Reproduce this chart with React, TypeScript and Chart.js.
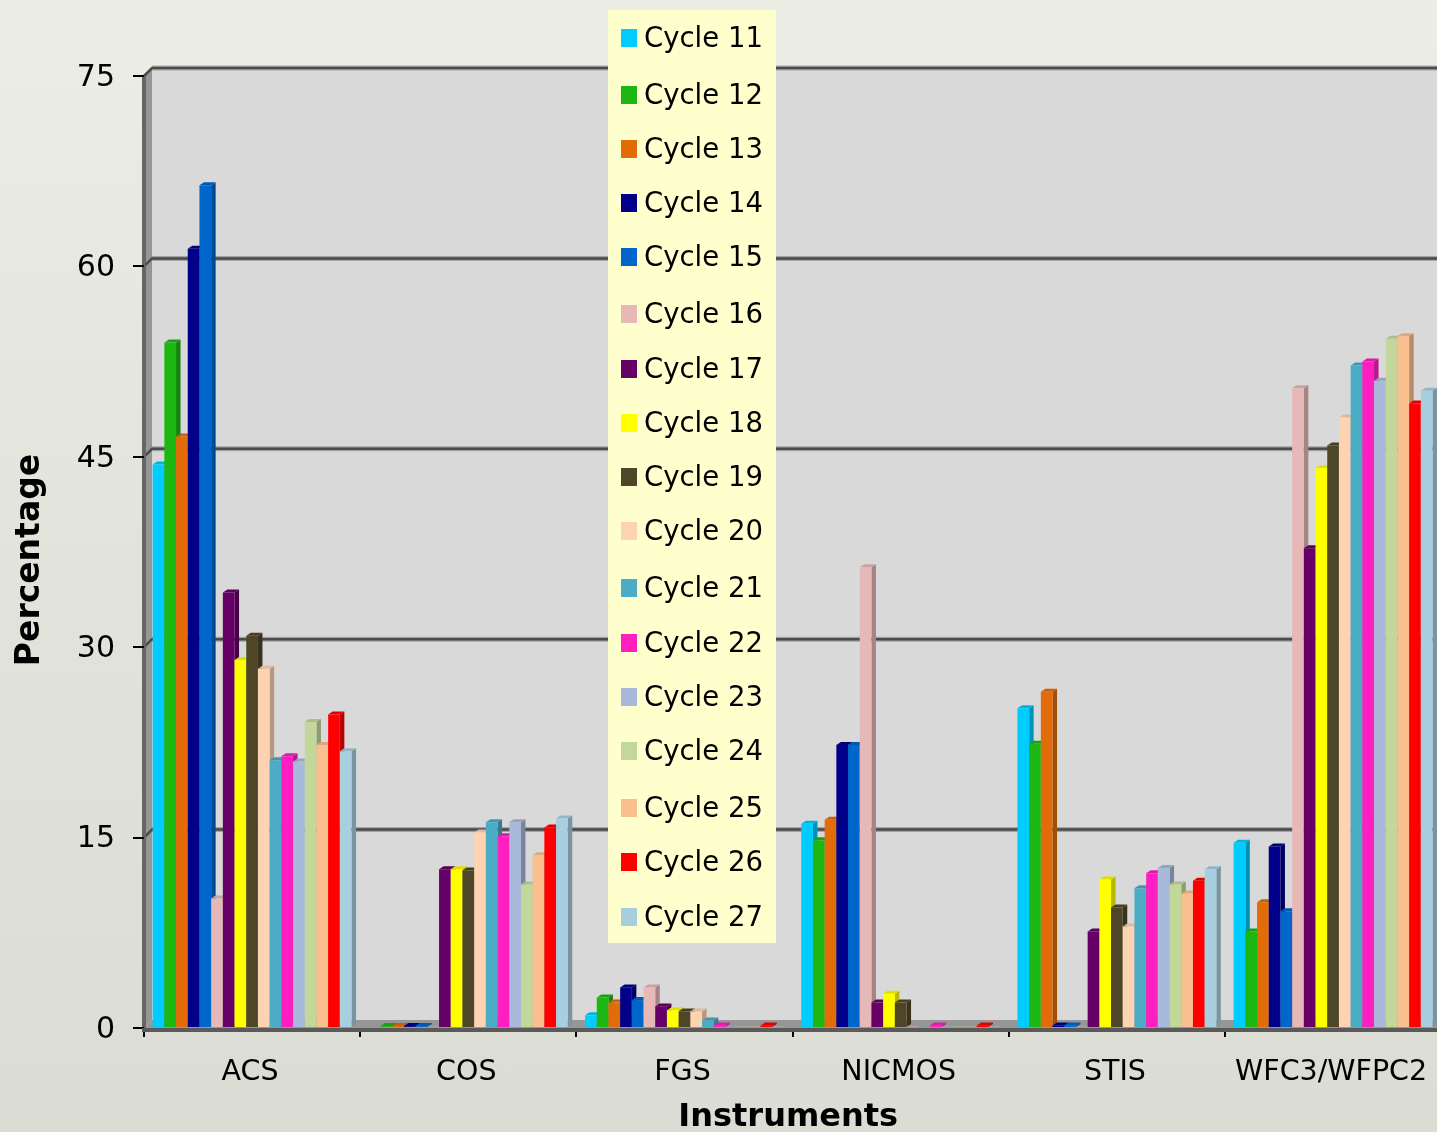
import React, { useEffect, useRef } from "react";
import { Chart, registerables } from "chart.js";

Chart.register(...registerables);

const instruments = ["ACS", "COS", "FGS", "NICMOS", "STIS", "WFC3/WFPC2"];
const yTicks = [0, 15, 30, 45, 60, 75];

const cycle11 = [44.4, 0, 1.0, 16.1, 25.2, 14.6];
const cycle12 = [54.0, 0.15, 2.4, 14.8, 22.4, 7.6];
const cycle13 = [46.6, 0.15, 2.0, 16.4, 26.5, 9.9];
const cycle14 = [61.4, 0.15, 3.2, 22.3, 0.2, 14.3];
const cycle15 = [66.4, 0.15, 2.2, 22.3, 0.2, 9.2];
const cycle16 = [10.2, 0.1, 3.2, 36.3, 0.1, 50.4];
const cycle17 = [34.3, 12.5, 1.7, 2.0, 7.6, 37.8];
const cycle18 = [29.0, 12.5, 1.4, 2.7, 11.7, 44.1];
const cycle19 = [30.9, 12.4, 1.3, 2.0, 9.5, 45.9];
const cycle20 = [28.3, 15.4, 1.3, 0.1, 8.0, 48.1];
const cycle21 = [21.1, 16.2, 0.6, 0.1, 11.0, 52.2];
const cycle22 = [21.4, 15.1, 0.2, 0.2, 12.2, 52.5];
const cycle23 = [21.0, 16.2, 0.1, 0.1, 12.6, 51.0];
const cycle24 = [24.1, 11.3, 0.1, 0.1, 11.3, 54.3];
const cycle25 = [22.3, 13.6, 0.1, 0.1, 10.6, 54.5];
const cycle26 = [24.7, 15.8, 0.2, 0.2, 11.6, 49.2];
const cycle27 = [21.8, 16.5, 0.1, 0.1, 12.5, 50.2];

const seriesNames = ["Cycle 11", "Cycle 12", "Cycle 13", "Cycle 14", "Cycle 15", "Cycle 16", "Cycle 17", "Cycle 18", "Cycle 19", "Cycle 20", "Cycle 21", "Cycle 22", "Cycle 23", "Cycle 24", "Cycle 25", "Cycle 26", "Cycle 27"];
const seriesValues = [cycle11, cycle12, cycle13, cycle14, cycle15, cycle16, cycle17, cycle18, cycle19, cycle20, cycle21, cycle22, cycle23, cycle24, cycle25, cycle26, cycle27];
const seriesColors = ["#00CCFF", "#1DB714", "#E36C0A", "#00008B", "#0066CC", "#E6B8B7", "#660066", "#FFFF00", "#4F4628", "#FDD3B2", "#4BACC6", "#FF1FC0", "#A9B9DA", "#C4D79B", "#FABF8F", "#FF0000", "#A8CFDF"];

const legendRows = [37, 94, 148, 202, 256, 313, 368, 422, 476, 530, 587, 642, 696, 750, 807, 861, 916];

const FONT = '"DejaVu Sans", sans-serif';
const DX = 8;
const DY = 8;

function shade(hex: string, f: number) {
  const n = parseInt(hex.slice(1), 16);
  const c = [(n >> 16) & 255, (n >> 8) & 255, n & 255].map((v) => Math.round(v * f));
  return `rgb(${c[0]},${c[1]},${c[2]})`;
}

function drawBarDepth(ctx: any, meta: any, color: string) {
  ctx.save();
  for (const bar of meta.data) {
    if (bar.base - bar.y < 0.5) continue;
    const half = bar.width / 2;
    const l = bar.x - half;
    const r = bar.x + half;
    const t = bar.y;
    const b = bar.base;
    const sx = 4.5;
    const sy = 3;
    ctx.fillStyle = shade(color, 0.72);
    ctx.beginPath();
    ctx.moveTo(r, t);
    ctx.lineTo(r + sx, t - sy);
    ctx.lineTo(r + sx, b - sy);
    ctx.lineTo(r, b);
    ctx.closePath();
    ctx.fill();
    ctx.fillStyle = shade(color, 0.88);
    ctx.beginPath();
    ctx.moveTo(l, t);
    ctx.lineTo(l + sx, t - sy);
    ctx.lineTo(r + sx, t - sy);
    ctx.lineTo(r, t);
    ctx.closePath();
    ctx.fill();
  }
  ctx.restore();
}

const wallPlugin = {
  id: "wall",
  afterLayout(chart: any) {
    const s = chart.scales.x;
    s.right = s.left + 6 * 216.2;
    s.width = s.right - s.left;
    s.configure();
  },
  beforeDraw(chart: any) {
    const { ctx, chartArea: a, scales } = chart;
    const W = chart.width;
    const y = scales.y;
    const x0 = a.left;
    const y0 = y.getPixelForValue(0);
    const yT = y.getPixelForValue(75);
    ctx.save();
    ctx.fillStyle = "#D9D9D9";
    ctx.fillRect(x0 + DX, yT - DY, W - x0 - DX, y0 - yT);
    ctx.fillStyle = "#969696";
    ctx.beginPath();
    ctx.moveTo(x0, y0);
    ctx.lineTo(x0 + DX, y0 - DY);
    ctx.lineTo(W, y0 - DY);
    ctx.lineTo(W, y0);
    ctx.closePath();
    ctx.fill();
    ctx.beginPath();
    ctx.moveTo(x0, yT);
    ctx.lineTo(x0 + DX, yT - DY);
    ctx.lineTo(x0 + DX, y0 - DY);
    ctx.lineTo(x0, y0);
    ctx.closePath();
    ctx.fill();
    for (const t of yTicks) {
      if (t === 0) continue;
      const p = y.getPixelForValue(t);
      ctx.strokeStyle = "rgba(120,120,120,0.55)";
      ctx.lineWidth = 5;
      ctx.beginPath();
      ctx.moveTo(x0 + DX, p - DY);
      ctx.lineTo(W, p - DY);
      ctx.stroke();
      ctx.strokeStyle = "#4A4A4A";
      ctx.lineWidth = 2.5;
      ctx.beginPath();
      ctx.moveTo(x0, p);
      ctx.lineTo(x0 + DX, p - DY);
      ctx.lineTo(W, p - DY);
      ctx.stroke();
    }
    ctx.strokeStyle = "#666666";
    ctx.lineWidth = 4;
    ctx.beginPath();
    ctx.moveTo(x0, yT);
    ctx.lineTo(x0, y0 + 2);
    ctx.stroke();
    ctx.restore();
  },
  // Chart.js paints the first dataset last; the picture needs later cycles in front.
  beforeDatasetsDraw(chart: any) {
    const { ctx, chartArea: a, scales } = chart;
    seriesNames.forEach((_, i) => {
      const meta = chart.getDatasetMeta(i);
      drawBarDepth(ctx, meta, seriesColors[i]);
      meta.controller.draw();
    });
    const y0 = scales.y.getPixelForValue(0);
    ctx.save();
    ctx.strokeStyle = "#5A5A5A";
    ctx.lineWidth = 4;
    ctx.beginPath();
    ctx.moveTo(a.left - 2, y0 + 2);
    ctx.lineTo(chart.width, y0 + 2);
    ctx.stroke();
    ctx.restore();
    return false;
  },
  afterDraw(chart: any) {
    const { ctx } = chart;
    ctx.save();
    ctx.fillStyle = "#FFFFCE";
    ctx.fillRect(608, 10, 168, 933);
    ctx.font = `27.5px ${FONT}`;
    ctx.textBaseline = "middle";
    ctx.textAlign = "left";
    seriesNames.forEach((name, i) => {
      const ry = legendRows[i];
      ctx.fillStyle = seriesColors[i];
      ctx.fillRect(621, ry - 8, 16, 18);
      ctx.fillStyle = "#000000";
      ctx.fillText(name, 644, ry + 2.5);
    });
    ctx.restore();
  },
};

const titleShift = {
  id: "titleShift",
  beforeDraw(chart: any) {
    const shifts: Record<string, [number, number]> = { x: [-4.4, 5], y: [3, 8] };
    for (const id of Object.keys(shifts)) {
      const s = chart.scales[id];
      if (s.__shifted) continue;
      s.__shifted = true;
      const orig = s.drawTitle.bind(s);
      s.drawTitle = () => {
        chart.ctx.save();
        chart.ctx.translate(shifts[id][0], shifts[id][1]);
        orig();
        chart.ctx.restore();
      };
    }
  },
};

export default function App() {
  const ref = useRef<HTMLCanvasElement>(null);
  useEffect(() => {
    const chart = new Chart(ref.current as HTMLCanvasElement, {
      type: "bar",
      data: {
        labels: instruments,
        datasets: seriesNames.map((name, i) => ({
          label: name,
          data: seriesValues[i],
          backgroundColor: seriesColors[i],
          borderWidth: 0,
          barPercentage: 1,
          categoryPercentage: 0.92,
        })),
      },
      options: {
        responsive: false,
        animation: false,
        devicePixelRatio: 1,
        layout: { padding: { top: 76, right: 0, left: 0, bottom: 0 } },
        plugins: { legend: { display: false }, tooltip: { enabled: false } },
        scales: {
          x: {
            border: { display: false },
            grid: { drawOnChartArea: false, color: "#000000", tickLength: 9, lineWidth: 2, offset: true },
            ticks: { color: "#000000", font: { family: FONT, size: 28.5 }, padding: 18, labelOffset: -2, maxRotation: 0, autoSkip: false },
            title: { display: true, text: "Instruments", color: "#000000", font: { family: FONT, size: 32, weight: "bold" }, padding: { top: 0, bottom: 0 } },
            afterFit: (s: any) => {
              s.height = 104;
            },
          },
          y: {
            min: 0,
            max: 75,
            border: { display: false },
            grid: { drawOnChartArea: false, color: "#000000", tickLength: 11, lineWidth: 2 },
            ticks: { color: "#000000", stepSize: 15, font: { family: FONT, size: 30 }, padding: 18, labelOffset: 2 },
            title: { display: true, text: "Percentage", color: "#000000", font: { family: FONT, size: 33, weight: "bold" }, padding: { top: 8, bottom: 0 } },
            afterFit: (s: any) => {
              s.width = 144;
            },
          },
        },
      },
      plugins: [wallPlugin, titleShift],
    } as any);
    return () => chart.destroy();
  }, []);
  return (
    <canvas
      ref={ref}
      width={1437}
      height={1132}
      style={{
        position: "absolute",
        left: 0,
        top: 0,
        display: "block",
        background: "linear-gradient(180deg, #ECEDE5 0%, #E2E3DB 50%, #DBDCD4 100%)",
      }}
    />
  );
}
